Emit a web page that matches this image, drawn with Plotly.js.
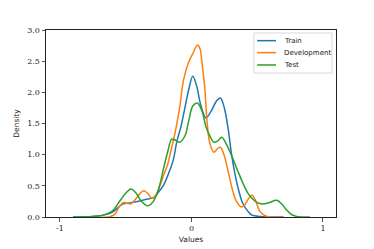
<!DOCTYPE html>
<html><head><meta charset="utf-8">
<script src="https://cdn.plot.ly/plotly-3.0.1.min.js"></script>
<style>html,body{margin:0;padding:0;background:#fff}</style>
</head><body>
<div id="chart" style="width:374px;height:249px"></div>
<script>
const seriesNames = ["Train", "Development", "Test"];
const colors = ["#1f77b4", "#ff7f0e", "#2ca02c"];

const trainX = [-0.9,-0.75,-0.67,-0.6,-0.56,-0.52,-0.46,-0.41,-0.35,-0.29,-0.25,-0.21,-0.17,-0.14,-0.11,-0.08,-0.05,-0.02,0.01,0.04,0.07,0.11,0.15,0.19,0.22,0.25,0.28,0.305,0.33,0.36,0.39,0.43,0.46,0.52,0.6,0.7];
const trainY = [0,0.01,0.03,0.08,0.15,0.21,0.23,0.25,0.28,0.31,0.4,0.52,0.72,0.9,1.22,1.45,1.75,2.05,2.26,2.1,1.8,1.59,1.7,1.86,1.91,1.75,1.4,1.0,0.7,0.42,0.22,0.09,0.03,0.01,0,0];

const devX = [-0.75,-0.62,-0.58,-0.55,-0.52,-0.49,-0.46,-0.42,-0.38,-0.36,-0.33,-0.30,-0.27,-0.24,-0.21,-0.18,-0.16,-0.12,-0.09,-0.06,-0.02,0.01,0.045,0.065,0.08,0.1,0.12,0.14,0.17,0.2,0.22,0.25,0.28,0.31,0.34,0.38,0.4,0.43,0.46,0.49,0.52,0.56,0.6,0.7];
const devY = [0,0.005,0.05,0.16,0.23,0.22,0.21,0.3,0.4,0.42,0.37,0.3,0.35,0.5,0.68,0.85,1.03,1.4,1.75,2.2,2.49,2.62,2.76,2.7,2.47,2.1,1.5,1.18,1.04,1.1,1.12,0.98,0.72,0.45,0.26,0.16,0.18,0.28,0.35,0.25,0.09,0.02,0,0];

const testX = [-0.9,-0.75,-0.67,-0.6,-0.55,-0.5,-0.46,-0.42,-0.38,-0.33,-0.29,-0.25,-0.21,-0.18,-0.15,-0.12,-0.09,-0.05,-0.02,0.01,0.045,0.08,0.11,0.14,0.17,0.2,0.23,0.27,0.31,0.35,0.39,0.43,0.46,0.5,0.54,0.59,0.65,0.69,0.72,0.76,0.8,0.9];
const testY = [0,0.01,0.03,0.1,0.24,0.38,0.45,0.38,0.25,0.18,0.25,0.45,0.8,1.05,1.25,1.23,1.2,1.3,1.55,1.78,1.83,1.7,1.45,1.3,1.2,1.22,1.28,1.15,0.96,0.75,0.55,0.38,0.3,0.23,0.21,0.23,0.27,0.2,0.12,0.04,0.01,0];

const xTicks = [-1, 0, 1];
const xTickText = ["-1", "0", "1"];
const yTicks = [0, 0.5, 1, 1.5, 2, 2.5, 3];
const yTickText = ["0.0", "0.5", "1.0", "1.5", "2.0", "2.5", "3.0"];

const xs = [trainX, devX, testX];
const ys = [trainY, devY, testY];
const traces = seriesNames.map((n, i) => ({
  x: xs[i], y: ys[i], name: n, type: "scatter", mode: "lines", showlegend: false,
  line: {color: colors[i], width: 1.5, shape: "spline", smoothing: 1}
}));

// compact legend built from shapes + annotations (paper coords of plot area)
const legBox = {x0: 0.717, x1: 0.986, y0: 0.770, y1: 0.984};
const rowY = [0.943, 0.879, 0.813];
const shapes = [{type: "rect", xref: "paper", yref: "paper", x0: legBox.x0, x1: legBox.x1, y0: legBox.y0, y1: legBox.y1,
  line: {color: "#d0d0d0", width: 0.8}, fillcolor: "rgba(255,255,255,0.85)", layer: "above"}];
const annotations = [];
seriesNames.forEach((n, i) => {
  shapes.push({type: "line", xref: "paper", yref: "paper", x0: 0.728, x1: 0.793, y0: rowY[i], y1: rowY[i],
    line: {color: colors[i], width: 1.5}, layer: "above"});
  annotations.push({xref: "paper", yref: "paper", x: 0.814, y: rowY[i], xanchor: "left", yanchor: "middle",
    text: n, showarrow: false, font: {family: "DejaVu Sans, sans-serif", size: 7, color: "#222"}});
});

const axisCommon = {
  showgrid: false, zeroline: false, showline: true, mirror: true,
  linecolor: "#222", linewidth: 1, ticks: "outside", ticklen: 3.5, tickwidth: 0.8,
  tickcolor: "#222", tickfont: {family: "DejaVu Serif, serif", size: 8, color: "#222"}
};

const layout = {
  width: 374, height: 249,
  margin: {l: 46, r: 38, t: 30, b: 32},
  paper_bgcolor: "#fff", plot_bgcolor: "#fff",
  showlegend: false,
  shapes: shapes, annotations: annotations,
  xaxis: Object.assign({}, axisCommon, {range: [-1.106, 1.099], tickvals: xTicks, ticktext: xTickText,
    title: {text: "Values", font: {family: "DejaVu Sans, sans-serif", size: 7.5, color: "#222"}, standoff: 4}}),
  yaxis: Object.assign({}, axisCommon, {range: [0, 3], tickvals: yTicks, ticktext: yTickText,
    title: {text: "Density", font: {family: "DejaVu Sans, sans-serif", size: 7.5, color: "#222"}, standoff: 6}})
};

Plotly.newPlot("chart", traces, layout, {displayModeBar: false, staticPlot: true});
</script>
</body></html>
